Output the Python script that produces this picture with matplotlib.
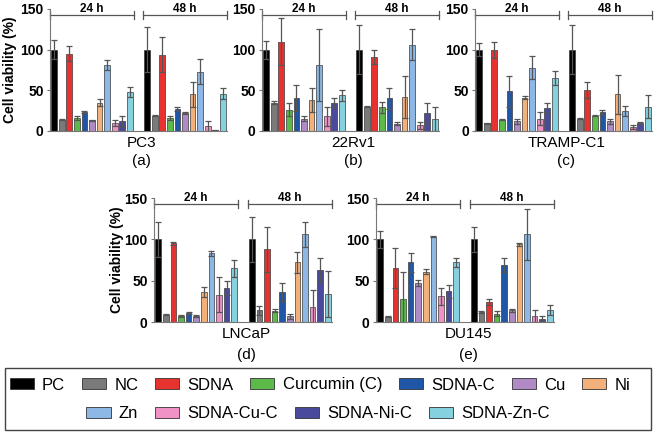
import numpy as np
import matplotlib
matplotlib.use("Agg")
import matplotlib.pyplot as plt
from matplotlib.patches import Patch, Rectangle

plt.rcParams['font.family'] = ['Liberation Sans', 'DejaVu Sans']

# treatments and colours
labels = ["PC", "NC", "SDNA", "Curcumin (C)", "SDNA-C", "Cu", "Ni",
          "Zn", "SDNA-Cu-C", "SDNA-Ni-C", "SDNA-Zn-C"]
colors = ["#000000", "#7a7a7a", "#e8322f", "#5cb94a", "#1f56a8", "#b08ac4",
          "#f2b07a", "#8db8e6", "#f092c6", "#4a4a9c", "#86d1df"]

# cell viability (%), 24 h and 48 h, with error
pc3_24 = [100, 14, 95, 16, 23, 13, 35, 81, 10, 12, 48]
pc3_24_err = [12, 1, 9, 2, 1, 1, 4, 6, 4, 7, 6]
pc3_48 = [100, 19, 94, 16, 27, 22, 45, 73, 6, 1, 46]
pc3_48_err = [28, 1, 21, 3, 3, 1, 15, 15, 6, 0.5, 7]

rv1_24 = [100, 35, 110, 26, 40, 15, 38, 81, 18, 34, 44]
rv1_24_err = [11, 2, 29, 8, 16, 3, 15, 44, 12, 6, 7]
rv1_48 = [100, 30, 91, 29, 40, 9, 42, 106, 7, 22, 15]
rv1_48_err = [30, 1, 9, 7, 13, 2, 26, 19, 4, 12, 15]

tramp_24 = [100, 9.5, 100, 14, 49, 12, 41, 78, 15, 28, 65]
tramp_24_err = [8, 0.5, 10, 1, 19, 3, 2, 14, 8, 6, 9]
tramp_48 = [100, 15, 50, 19, 23, 12, 45, 25, 5, 9.5, 30]
tramp_48_err = [30, 0.5, 10, 1, 3, 3, 24, 6, 2.5, 1.5, 14]

lncap_24 = [100, 9, 95, 7, 11, 7, 36, 83, 33, 41, 65]
lncap_24_err = [21, 1, 2, 1, 1, 1, 6, 3, 21, 8, 10]
lncap_48 = [100, 14, 88, 13.5, 36, 7, 72, 106, 18.5, 63, 34]
lncap_48_err = [27, 5, 27, 2, 11, 3, 13, 15, 20, 15, 28]

du145_24 = [100, 6.5, 65, 28, 72, 47, 61, 103, 31, 37, 72]
du145_24_err = [10, 0.5, 24, 32, 11, 3.5, 3, 0.5, 10, 8, 6]
du145_48 = [100, 12, 24, 10, 69, 14, 94, 106, 7, 4, 14]
du145_48_err = [15, 1, 4, 3, 9, 2, 2, 31, 7, 3, 6]

panels = [
    ("PC3", "(a)", pc3_24, pc3_24_err, pc3_48, pc3_48_err),
    ("22Rv1", "(b)", rv1_24, rv1_24_err, rv1_48, rv1_48_err),
    ("TRAMP-C1", "(c)", tramp_24, tramp_24_err, tramp_48, tramp_48_err),
    ("LNCaP", "(d)", lncap_24, lncap_24_err, lncap_48, lncap_48_err),
    ("DU145", "(e)", du145_24, du145_24_err, du145_48, du145_48_err),
]

W, H = 660, 433
fig = plt.figure(figsize=(W / 100, H / 100), dpi=100)

# axes boxes in pixels: left, y of zero line, width, height
boxes = [(50, 131, 177, 122), (262, 131, 177, 122), (475, 131, 177, 122),
         (154, 322, 178, 124), (376, 322, 178, 124)]

n = len(labels)
x24 = np.arange(n)
x48 = np.arange(n) + 12.3
bw = 0.75
ekw = dict(ecolor="#555555", elinewidth=0.9, capsize=2, capthick=0.9)

for i, (name, tag, v24, e24, v48, e48) in enumerate(panels):
    l, b, w, h = boxes[i]
    ax = fig.add_axes([l / W, 1 - b / H, w / W, h / H])
    ax.bar(x24, v24, bw, color=colors, edgecolor="#3a3a3a", linewidth=0.5,
           yerr=e24, error_kw=ekw, zorder=2)
    ax.bar(x48, v48, bw, color=colors, edgecolor="#3a3a3a", linewidth=0.5,
           yerr=e48, error_kw=ekw, zorder=2)
    ax.set_xlim(-0.55, x48[-1] + 0.55)
    ax.set_ylim(0, 150)
    ax.set_yticks([0, 50, 100, 150])
    ax.set_xticks([])
    for s in ["top", "right"]:
        ax.spines[s].set_visible(False)
    ax.spines["left"].set_color("#777777")
    ax.spines["bottom"].set_color("#777777")
    ax.tick_params(axis="y", length=2.5, width=0.8, color="#777777",
                   labelsize=10, pad=2)
    for t in ax.get_yticklabels():
        t.set_fontweight("bold")
    # time brackets
    for x0, x1, txt in [(x24[0] - 0.5, x24[-1] + 0.5, "24 h"),
                        (x48[0] - 0.5, x48[-1] + 0.5, "48 h")]:
        ax.plot([x0, x1], [143, 143], color="#555555", lw=0.9, clip_on=False)
        for xx in (x0, x1):
            ax.plot([xx, xx], [138, 148], color="#555555", lw=0.9, clip_on=False)
        ax.text((x0 + x1) / 2, 146.5, txt, ha="center", va="baseline",
                fontsize=8.5, fontweight="bold", clip_on=False)
    if i in (0, 3):
        ax.set_ylabel("Cell viability (%)", fontsize=10, fontweight="bold")
        ax.yaxis.set_label_coords((17 - l) / w if i == 0 else (124 - l) / w, 0.5)
    cx = (l + w / 2 + 3) / W
    ny, ty = (143, 161) if i < 3 else (334, 355)
    fig.text(cx, 1 - ny / H, name, ha="center", va="center", fontsize=11)
    fig.text(cx, 1 - ty / H, tag, ha="center", va="center", fontsize=11)

# legend box with two rows
fig.patches.append(Rectangle((5 / W, 1 - 430 / H), 646 / W, 62 / H,
                             transform=fig.transFigure, fill=False,
                             edgecolor="#444444", lw=1.0))
handles = [Patch(facecolor=c, edgecolor="#333333", linewidth=0.6) for c in colors]
lkw = dict(loc="center", frameon=False, fontsize=12, handlelength=1.45,
           handleheight=0.6, handletextpad=0.5, columnspacing=1.0,
           borderpad=0, borderaxespad=0)
fig.legend(handles[:7], labels[:7], ncol=7,
           bbox_to_anchor=(320 / W, 1 - 385 / H), **lkw)
fig.legend(handles[7:], labels[7:], ncol=4,
           bbox_to_anchor=(318 / W, 1 - 414 / H), **lkw)

fig.savefig("out.png", dpi=100)
